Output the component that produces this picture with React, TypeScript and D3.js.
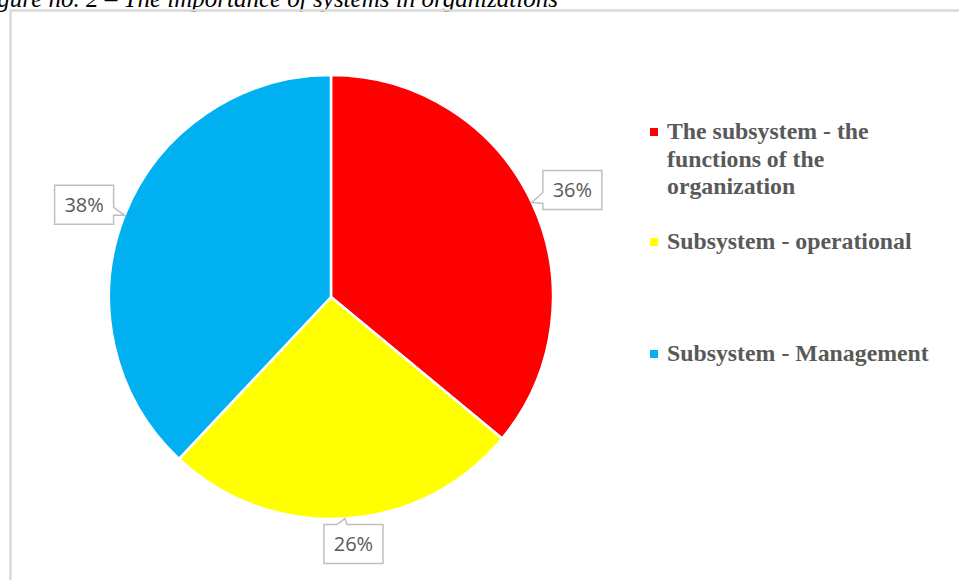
import React from "react";
import * as d3 from "d3";

const categories = [
  "The subsystem - the functions of the organization",
  "Subsystem - operational",
  "Subsystem - Management",
];
const values = [36, 26, 38];
const colors = ["#FF0000", "#FFFF00", "#00B0F0"];
const legendLines = [
  ["The subsystem - the", "functions of the", "organization"],
  ["Subsystem - operational"],
  ["Subsystem - Management"],
];
const title = "Figure no. 2 – The importance of systems in organizations";

const W = 959;
const H = 580;
const cx = 331;
const cy = 297;
const R = 222;

// callout box offsets relative to pointer tip (layout)
const boxW = 59;
const boxH = 39;
const calloutLayout = [
  { dx: 11, dy: -32, side: "left" },
  { dx: -21, dy: 6, side: "top" },
  { dx: -70, dy: -30, side: "right" },
];
const legendBaselines = [139, 249, 361];

export default function App() {
  const pie = d3.pie<number>().sort(null).value((d) => d);
  const arcs = pie(values);
  const arc = d3.arc<d3.PieArcDatum<number>>().innerRadius(0).outerRadius(R);
  const total = d3.sum(values);

  return (
    <svg
      width={W}
      height={H}
      style={{ position: "absolute", left: 0, top: 0, background: "#fff" }}
    >
      <text
        x={558}
        y={7}
        textAnchor="end"
        fontFamily="Liberation Serif"
        fontStyle="italic"
        fontSize={25}
        fill="#000"
      >
        {title}
      </text>
      <path
        d={`M10.5,${H} L10.5,10.5 L${W},10.5`}
        fill="none"
        stroke="#d9d9d9"
        strokeWidth={2.5}
      />
      <g transform={`translate(${cx},${cy})`}>
        {arcs.map((a, i) => (
          <path
            key={i}
            d={arc(a) || ""}
            fill={colors[i]}
            stroke="#fff"
            strokeWidth={2.5}
            strokeLinejoin="round"
          />
        ))}
      </g>
      {arcs.map((a, i) => {
        const mid = (a.startAngle + a.endAngle) / 2;
        const tx = cx + R * Math.sin(mid);
        const ty = cy - R * Math.cos(mid);
        const L = calloutLayout[i];
        const x0 = tx + L.dx;
        const y0 = ty + L.dy;
        const x1 = x0 + boxW;
        const y1 = y0 + boxH;
        let d = "";
        if (L.side === "left") {
          const p1 = ty - 10;
          const p2 = ty + 1;
          d = `M${x0},${y0} L${x1},${y0} L${x1},${y1} L${x0},${y1} L${x0},${p2} L${tx},${ty} L${x0},${p1} Z`;
        } else if (L.side === "right") {
          const p1 = ty - 8;
          const p2 = ty;
          d = `M${x0},${y0} L${x1},${y0} L${x1},${p1} L${tx},${ty} L${x1},${p2} L${x1},${y1} L${x0},${y1} Z`;
        } else {
          const p1 = tx - 8;
          const p2 = tx + 2;
          d = `M${x0},${y0} L${p1},${y0} L${tx},${ty} L${p2},${y0} L${x1},${y0} L${x1},${y1} L${x0},${y1} Z`;
        }
        const pct = Math.round((values[i] / total) * 100) + "%";
        return (
          <g key={i}>
            <path d={d} fill="#fff" stroke="#bfbfbf" strokeWidth={1.5} />
            <text
              x={(x0 + x1) / 2}
              y={(y0 + y1) / 2 + 7}
              textAnchor="middle"
              fontFamily="Open Sans, Liberation Sans, sans-serif"
              fontSize={20}
              fill="#595959"
            >
              {pct}
            </text>
          </g>
        );
      })}
      {legendLines.map((lines, i) => (
        <g key={i}>
          <rect
            x={650}
            y={legendBaselines[i] - 11}
            width={8}
            height={8}
            fill={colors[i]}
          />
          <text
            fontFamily="Liberation Serif"
            fontWeight="bold"
            fontSize={23.8}
            fill="#595959"
          >
            {lines.map((ln, j) => (
              <tspan key={j} x={667} y={legendBaselines[i] + j * 27.5}>
                {ln}
              </tspan>
            ))}
          </text>
        </g>
      ))}
      <title>{categories.join(", ")}</title>
    </svg>
  );
}
